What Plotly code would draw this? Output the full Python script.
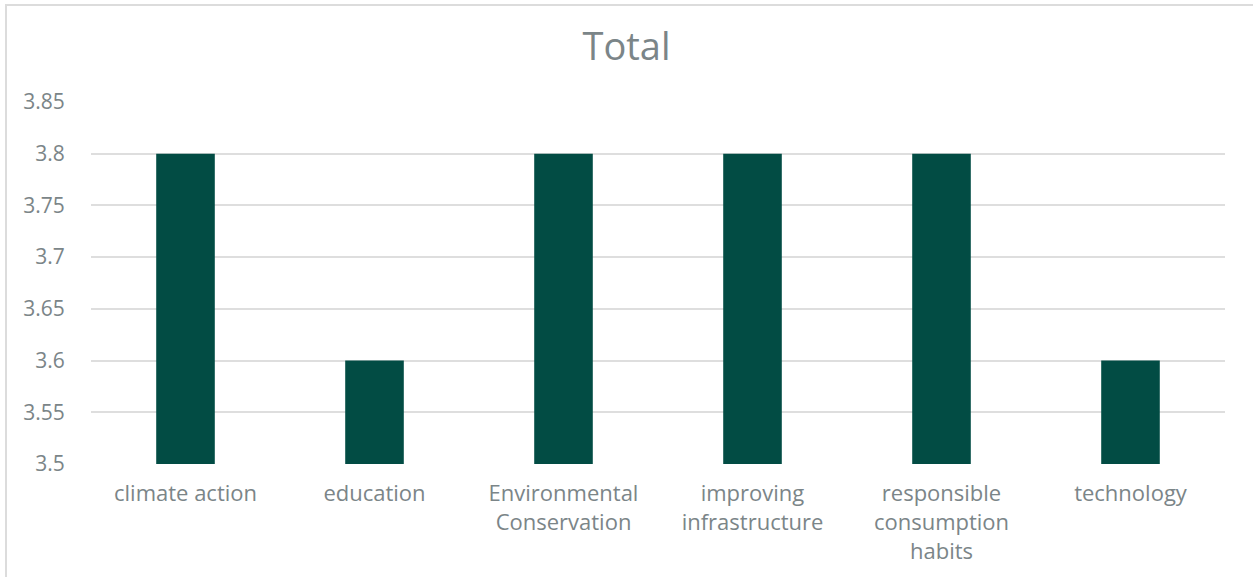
import plotly.graph_objects as go

categories = ["climate action", "education", "Environmental<br>Conservation",
              "improving<br>infrastructure", "responsible<br>consumption<br>habits", "technology"]
values = [3.8, 3.6, 3.8, 3.8, 3.8, 3.6]
tick_vals = [3.5, 3.55, 3.6, 3.65, 3.7, 3.75, 3.8, 3.85]
tick_text = ["3.5", "3.55", "3.6", "3.65", "3.7", "3.75", "3.8", "3.85"]

W, H = 1253, 577
L, R, T, B = 91, 28, 102, 113
pw, ph = W - L - R, H - T - B

fig = go.Figure(go.Bar(x=categories, y=values, marker=dict(color="#024C44", line=dict(width=0)),
                       width=0.31))

font_fam = "'Open Sans', Lato, sans-serif"
txt_col = "#7b8588"
fig.update_layout(
    width=W, height=H,
    margin=dict(l=L, r=R, t=T, b=B),
    paper_bgcolor="white", plot_bgcolor="white",
    title=dict(text="Total", x=0.5, xanchor="center", y=1 - 47 / H, yanchor="middle",
               font=dict(family=font_fam, size=38, color=txt_col)),
    font=dict(family=font_fam, color=txt_col),
    showlegend=False,
    xaxis=dict(showgrid=False, showline=False, zeroline=False, ticks="outside", ticklen=10,
               tickcolor="rgba(0,0,0,0)", tickfont=dict(size=22, color=txt_col)),
    yaxis=dict(range=[3.5, 3.85], tickvals=tick_vals, ticktext=tick_text, showgrid=True,
               gridcolor="#dedede", gridwidth=2, zeroline=False, showline=False,
               ticks="outside", ticklen=21, tickcolor="rgba(0,0,0,0)",
               tickfont=dict(size=21, color=txt_col)),
    shapes=[dict(type="rect", xref="paper", yref="paper",
                 x0=(6 - L) / pw, x1=(W + 20 - L) / pw,
                 y0=-(H + 20 - T - ph) / ph, y1=1 + (T - 5) / ph,
                 line=dict(color="#dcdcdc", width=2), fillcolor="rgba(0,0,0,0)", layer="below")],
)
fig.write_html("out.html")
